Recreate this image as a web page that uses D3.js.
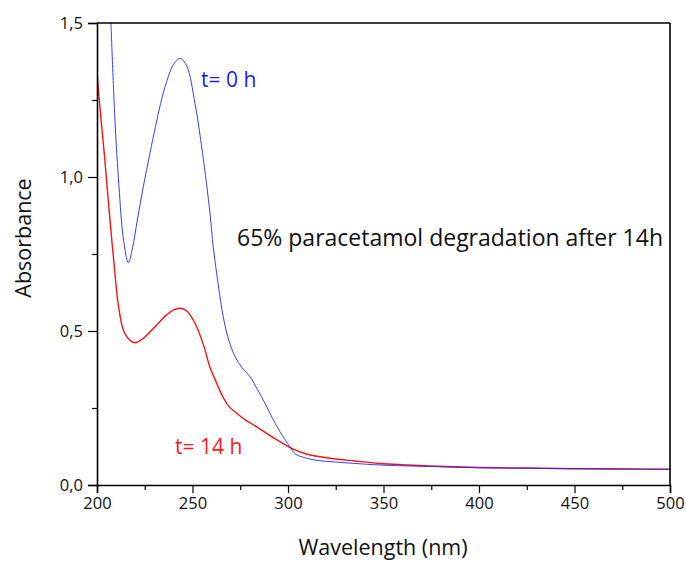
<!DOCTYPE html>
<html>
<head>
<meta charset="utf-8">
<script src="https://cdn.jsdelivr.net/npm/d3@7"></script>
<style>
    body { margin: 0; background: #fff; }
    svg { display: block; font-family: "Open Sans", sans-serif; }
</style>
</head>
<body>
<svg id="chart"></svg>
<script>
// t = 0 h spectrum (blue)
const wl0 = [207.3, 209.4, 211.5, 213.8, 216.4, 218.6, 221.1, 224.3, 227.7, 230.5, 233.3, 236.5, 240, 243.5, 247, 251.3,
    255.2, 259.2, 260.9, 263.5, 266.1, 269, 272.3, 276, 280.1, 284, 288, 292, 295.8, 301, 304, 308, 315, 322, 335, 348,
    374, 400, 425, 450, 475, 500];
const abs0 = [1.5, 1.185, 0.97, 0.8, 0.722, 0.77, 0.86, 0.97, 1.077, 1.16, 1.239, 1.31, 1.365, 1.385, 1.36, 1.239,
    1.08, 0.88, 0.77, 0.65, 0.546, 0.47, 0.417, 0.38, 0.352, 0.31, 0.265, 0.215, 0.173, 0.124, 0.1, 0.09, 0.08, 0.076, 0.07, 0.065,
    0.06, 0.056, 0.054, 0.053, 0.052, 0.051];

// t = 14 h spectrum (red)
const wl14 = [200, 201.9, 203.8, 206.8, 208.9, 211.5, 214.7, 219.9, 224, 230.4, 236, 240, 243.5, 247, 251.3, 256,
    259, 262.7, 266, 269.5, 273.1, 278, 283.6, 290, 295.8, 301.9, 310, 322, 335, 348, 374, 400, 425, 450, 475, 500];
const abs14 = [1.34, 1.2, 1.077, 0.86, 0.72, 0.57, 0.49, 0.462, 0.475, 0.514, 0.55, 0.568, 0.574, 0.565, 0.525, 0.45,
    0.385, 0.33, 0.285, 0.252, 0.233, 0.21, 0.189, 0.163, 0.141, 0.119, 0.1, 0.087, 0.078, 0.07, 0.062, 0.057, 0.055, 0.053, 0.052, 0.051];

const xTicks = [200, 250, 300, 350, 400, 450, 500];
const xMinor = [225, 275, 325, 375, 425, 475];
const yTicks = [0, 0.5, 1.0, 1.5];
const yMinor = [0.25, 0.75, 1.25];

const width = 686;
const height = 562;
const margin = { top: 23, left: 97, bottom: 77, right: 16 };

const svg = d3.select("#chart")
    .attr("width", width)
    .attr("height", height);

const x = d3.scaleLinear()
    .domain([200, 500])
    .range([margin.left, width - margin.right]);

const y = d3.scaleLinear()
    .domain([0, 1.5])
    .range([height - margin.bottom, margin.top]);

const fmt = d => d3.format(".1f")(d).replace(".", ",");

// clip the curves to the frame
svg.append("clipPath")
    .attr("id", "plotclip")
    .append("rect")
    .attr("x", margin.left)
    .attr("y", margin.top)
    .attr("width", width - margin.left - margin.right)
    .attr("height", height - margin.top - margin.bottom);

const line = d3.line()
    .x(d => x(d[0]))
    .y(d => y(d[1]))
    .curve(d3.curveCatmullRom.alpha(0.5));

const plot = svg.append("g").attr("clip-path", "url(#plotclip)");

plot.append("path")
    .datum(d3.zip(wl14, abs14))
    .attr("d", line)
    .attr("fill", "none")
    .attr("stroke", "#ff1010")
    .attr("stroke-width", 1.4);

plot.append("path")
    .datum(d3.zip(wl0, abs0))
    .attr("d", line)
    .attr("fill", "none")
    .attr("stroke", "#1a2aff")
    .attr("stroke-width", 0.9);

// axes
svg.append("g")
    .attr("transform", `translate(0,${y(0)})`)
    .call(d3.axisBottom(x).tickValues(xTicks).tickSize(8).tickPadding(4).tickFormat(d3.format("d")));

svg.append("g")
    .attr("transform", `translate(0,${y(0)})`)
    .call(d3.axisBottom(x).tickValues(xMinor).tickSize(5).tickFormat(""))
    .call(g => g.select(".domain").remove());

svg.append("g")
    .attr("transform", `translate(${x(200)},0)`)
    .call(d3.axisLeft(y).tickValues(yTicks).tickSize(9).tickPadding(5).tickFormat(fmt));

svg.append("g")
    .attr("transform", `translate(${x(200)},0)`)
    .call(d3.axisLeft(y).tickValues(yMinor).tickSize(5).tickFormat(""))
    .call(g => g.select(".domain").remove());

svg.selectAll(".domain").attr("stroke-width", 1.6).attr("stroke", "#000");
svg.selectAll(".tick line").attr("stroke-width", 1.2).attr("stroke", "#000");
svg.selectAll(".tick text").attr("font-size", 16.5).attr("font-family", "Open Sans").attr("fill", "#111");

// top and right frame lines
svg.append("line")
    .attr("x1", x(200)).attr("x2", x(500))
    .attr("y1", y(1.5)).attr("y2", y(1.5))
    .attr("stroke", "#000").attr("stroke-width", 1.6);
svg.append("line")
    .attr("x1", x(500)).attr("x2", x(500))
    .attr("y1", y(1.5)).attr("y2", y(0))
    .attr("stroke", "#000").attr("stroke-width", 1.6);

// axis titles
svg.append("text")
    .attr("x", 383)
    .attr("y", 555)
    .attr("text-anchor", "middle")
    .attr("font-size", 21.5)
    .attr("fill", "#111")
    .text("Wavelength (nm)");

svg.append("text")
    .attr("transform", "translate(31,238) rotate(-90)")
    .attr("text-anchor", "middle")
    .attr("font-size", 21.5)
    .attr("fill", "#111")
    .text("Absorbance");

// annotations
svg.append("text")
    .attr("x", 201)
    .attr("y", 86.5)
    .attr("font-size", 21)
    .attr("fill", "#1a1aff")
    .text("t= 0 h");

svg.append("text")
    .attr("x", 175)
    .attr("y", 454)
    .attr("font-size", 21)
    .attr("fill", "#ff1a1a")
    .text("t= 14 h");

svg.append("text")
    .attr("x", 237)
    .attr("y", 246)
    .attr("font-size", 23)
    .attr("fill", "#111")
    .text("65% paracetamol degradation after 14h");
</script>
</body>
</html>
